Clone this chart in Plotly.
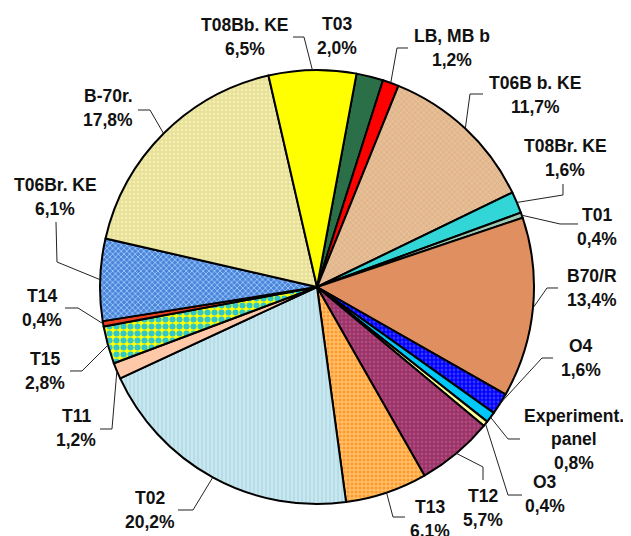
import math
import plotly.graph_objects as go

# ---------------- data ----------------
labels = ["T03", "LB, MB b", "T06B b. KE", "T08Br. KE", "T01", "B70/R", "O4",
          "Experiment.<br>panel", "O3", "T12", "T13", "T02", "T11", "T15", "T14",
          "T06Br. KE", "B-70r.", "T08Bb. KE"]
values = [2.0, 1.2, 11.7, 1.6, 0.4, 13.4, 1.6, 0.8, 0.4, 5.7, 6.1, 20.2, 1.2, 2.8,
          0.4, 6.1, 17.8, 6.5]

# ---------------- styling ----------------
colors = ["#2a6f48", "#ff0000", "#e2b68c", "#33d6d6", "#9fc9b2", "#e09060", "#0000ff",
          "#00c8f8", "#ffff99", "#993366", "#ff9a30", "#c8e8f0", "#ffc8a8", "#ffff00",
          "#e84020", "#4a86d8", "#e6df94", "#ffff00"]
pat_shape = ["", "", "x", "", "", "", ".", "", "", ".", "+", "|", "", ".", "", "x", ".", ""]
pat_fg = ["#2a6f48", "#ff0000", "#ebc9a4", "#33d6d6", "#9fc9b2", "#e09060", "#3838ff",
          "#00c8f8", "#ffff99", "#b04a80", "#ffd080", "#b4dbe8", "#ffc8a8", "#33c8c8",
          "#e84020", "#a0c6ff", "#f2eeb4", "#ffff00"]
pat_size = [4, 4, 4, 4, 4, 4, 4, 4, 4, 4, 4, 4, 4, 7, 4, 4, 4, 4]
pat_sol = [0.4, 0.4, 0.3, 0.4, 0.4, 0.4, 0.4, 0.4, 0.4, 0.4, 0.4, 0.4, 0.4, 0.6, 0.4, 0.4, 0.4, 0.4]

OFF = 8                      # default page margin around the plot div
W, H = 631 - OFF, 536 - OFF  # figure size
L, T, PW, PH = 100, 70, 434, 434   # pie box in window pixels
CX, CY, R = L + PW / 2, T + PH / 2, PW / 2
ROT = 10.5

# label centres (window px) and leader elbows (px, from label side toward the slice)
lab_pos = [(337, 36), (452, 48), (535, 95), (565, 158), (597, 227), (592, 288),
           (581, 358), (574, 439), (545, 494), (483, 508), (430, 519), (150, 510),
           (76, 428), (45, 371), (42, 308), (55, 197), (108, 108), (245, 37)]
leaders = [None, [(408, 48), (397, 48)], [(483, 94), (470, 94)], [(563, 184), (563, 195)],
           [(578, 224), (560, 224)], [(558, 288), (547, 288)], [(553, 358), (542, 358)],
           [(520, 439), (508, 439)], [(522, 495), (508, 495)], [(483, 480), (483, 467)],
           [(405, 517), (393, 517)], [(178, 510), (193, 510)], [(100, 429), (112, 429)],
           [(70, 371), (82, 371)], [(65, 308), (78, 308)], [(56, 222), (57, 262)],
           [(138, 110), (150, 110)], [(293, 37), (304, 37)]]


def px2paper(x, y):
    return (x - L) / PW, 1 - (y - T) / PH


fig = go.Figure(go.Pie(
    labels=labels, values=values, sort=False, direction="clockwise", rotation=ROT,
    textinfo="none", hoverinfo="label+percent", showlegend=False,
    marker=dict(colors=colors, line=dict(color="#000000", width=2),
                pattern=dict(shape=pat_shape, fgcolor=pat_fg, bgcolor=colors,
                             size=pat_size, solidity=pat_sol, fillmode="replace")),
))

total = sum(values)
annotations, shapes = [], []
cum = 0.0
for i, (lab, v) in enumerate(zip(labels, values)):
    mid = ROT + (cum + v / 2) / total * 360
    cum += v
    ax = CX + R * math.sin(math.radians(mid))
    ay = CY - R * math.cos(math.radians(mid))
    tx, ty = lab_pos[i]
    pct = f"{v:.1f}".replace(".", ",") + "%"
    lines = lab.split("<br>") + [pct]
    n = len(lines)
    for k, line in enumerate(lines):
        yy = ty + (k - (n - 1) / 2) * 23.5
        px, py = px2paper(tx, yy)
        annotations.append(dict(x=px, y=py, xref="paper", yref="paper", text=f"<b>{line}</b>",
                                showarrow=False, xanchor="center", yanchor="middle",
                                font=dict(family="Liberation Sans, Arial", size=17.5,
                                          color="#111111")))
    if leaders[i]:
        pts = leaders[i] + [(ax, ay)]
        path = ""
        for j, (x, y) in enumerate(pts):
            qx, qy = px2paper(x, y)
            path += ("M" if j == 0 else "L") + f"{qx:.4f},{qy:.4f} "
        shapes.append(dict(type="path", path=path, xref="paper", yref="paper",
                           line=dict(color="#222222", width=1)))

fig.update_layout(
    width=W, height=H,
    margin=dict(l=L - OFF, r=W - (L - OFF) - PW, t=T - OFF, b=H - (T - OFF) - PH),
    paper_bgcolor="white", plot_bgcolor="white",
    annotations=annotations, shapes=shapes,
)
fig.write_html("out.html")
